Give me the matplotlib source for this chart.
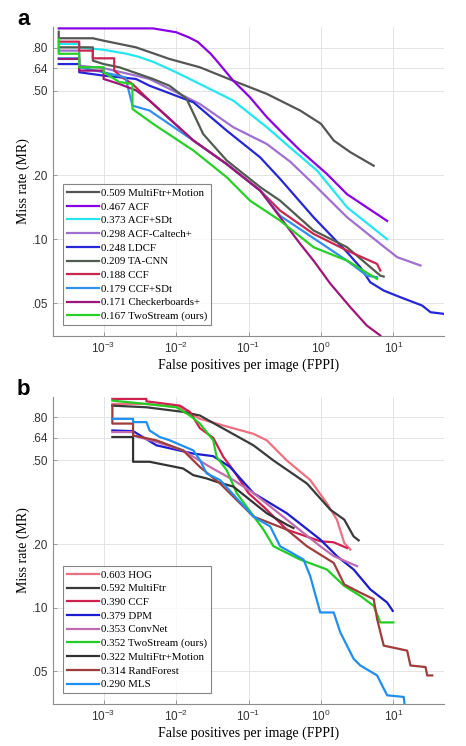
import matplotlib
matplotlib.use('Agg')
import matplotlib.pyplot as plt
from matplotlib.ticker import FixedLocator, NullLocator, FixedFormatter

plt.rcParams['font.family'] = ['Liberation Serif', 'DejaVu Serif']
plt.rcParams['mathtext.fontset'] = 'custom'
plt.rcParams['mathtext.rm'] = 'Liberation Sans'
plt.rcParams['mathtext.it'] = 'Liberation Sans:italic'

# ---------------- panel a ----------------
a_labels = ['0.509 MultiFtr+Motion', '0.467 ACF', '0.373 ACF+SDt', '0.298 ACF-Caltech+',
            '0.248 LDCF', '0.209 TA-CNN', '0.188 CCF', '0.179 CCF+SDt',
            '0.171 Checkerboards+', '0.167 TwoStream (ours)']
a_colors = ['#555555', '#8a00e6', '#22e6f0', '#a070d0', '#2626d9',
            '#4f5c4f', '#c8284f', '#2f90f0', '#a0157a', '#26d026']

a_x_mfm = [2.4e-4, 2.4e-4, 7.1e-4, 1e-3, 2.8e-3, 8.1e-3, 0.0213, 0.0617, 0.179, 0.517, 1.0, 1.5, 2.55, 5.35]
a_y_mfm = [0.95, 0.885, 0.885, 0.862, 0.802, 0.707, 0.646, 0.558, 0.484, 0.404, 0.35, 0.292, 0.257, 0.222]

a_x_acf = [2.4e-4, 4.8e-3, 0.01, 0.015, 0.02, 0.03, 0.0363, 0.0617, 0.105, 0.179, 0.304, 0.517, 1.21, 2.29, 8.2]
a_y_acf = [0.985, 0.985, 0.945, 0.894, 0.85, 0.748, 0.694, 0.558, 0.466, 0.376, 0.313, 0.262, 0.203, 0.163, 0.122]

a_x_acfsdt = [2.4e-4, 4.6e-4, 4.6e-4, 1e-3, 2e-3, 3e-3, 5e-3, 0.01, 0.0213, 0.0617, 0.179, 0.418, 0.88, 2.29, 8.2]
a_y_acfsdt = [0.832, 0.832, 0.802, 0.781, 0.75, 0.725, 0.682, 0.612, 0.539, 0.45, 0.337, 0.262, 0.211, 0.1415, 0.10]

a_x_acfct = [2.4e-4, 4.6e-4, 4.6e-4, 1e-3, 2.8e-3, 4.3e-3, 0.0213, 0.0617, 0.179, 0.376, 0.79, 2.29, 6.6, 11.3, 23.7]
a_y_acfct = [0.774, 0.774, 0.657, 0.64, 0.59, 0.569, 0.434, 0.337, 0.281, 0.232, 0.182, 0.127, 0.0951, 0.0823, 0.0752]

a_x_ldcf = [2.4e-4, 4.6e-4, 4.6e-4, 1e-3, 2.8e-3, 4.3e-3, 0.0173, 0.05, 0.145, 0.273, 0.79, 2.29, 3.5,
            4.8, 7.36, 12.5, 25, 32.6, 50]
a_y_ldcf = [0.669, 0.669, 0.612, 0.59, 0.569, 0.529, 0.442, 0.325, 0.243, 0.1925, 0.127, 0.0869, 0.0738,
            0.0627, 0.0573, 0.0533, 0.0487, 0.0453, 0.0445]

a_x_tacnn = [2.4e-4, 7.1e-4, 7.1e-4, 1e-3, 1.65e-3, 4.8e-3, 8.1e-3, 0.0139, 0.0237, 0.05, 0.145, 0.273,
             0.79, 2.29, 6.6, 7.36]
a_y_tacnn = [0.802, 0.802, 0.694, 0.669, 0.646, 0.569, 0.529, 0.46, 0.313, 0.235, 0.176, 0.152,
             0.11, 0.0917, 0.0674, 0.0667]

a_x_ccf = [2.4e-4, 4.6e-4, 4.6e-4, 7.1e-4, 7.1e-4, 1.4e-3, 1.4e-3, 1.8e-3, 2.5e-3, 4.3e-3, 0.0173,
           0.05, 0.145, 0.273, 0.79, 2.29, 5.96, 6.6]
a_y_ccf = [0.853, 0.853, 0.774, 0.774, 0.712, 0.712, 0.623, 0.579, 0.539, 0.45, 0.292,
           0.226, 0.1695, 0.1365, 0.106, 0.0885, 0.0765, 0.0712]

a_x_ccfsdt = [2.4e-4, 4.6e-4, 4.6e-4, 1e-3, 2e-3, 2.5e-3, 4.3e-3, 0.0173, 0.05, 0.145, 0.273, 2.29, 4.3, 5.96]
a_y_ccfsdt = [0.712, 0.712, 0.646, 0.612, 0.579, 0.426, 0.404, 0.292, 0.226, 0.1695, 0.129, 0.0793, 0.0674, 0.0662]

a_x_checker = [2.4e-4, 4.6e-4, 4.6e-4, 1e-3, 1e-3, 1.65e-3, 2.8e-3, 4.3e-3, 0.0173, 0.05, 0.145, 0.273,
               0.517, 0.79, 1.35, 2.55, 4.3, 6.6]
a_y_checker = [0.707, 0.707, 0.623, 0.623, 0.569, 0.539, 0.503, 0.45, 0.292, 0.226, 0.1695, 0.127,
               0.0951, 0.0793, 0.0617, 0.0478, 0.0392, 0.0352]

a_x_two = [2.4e-4, 2.4e-4, 4.6e-4, 4.6e-4, 1e-3, 1e-3, 1.65e-3, 2.5e-3, 2.5e-3, 4.8e-3, 0.0173, 0.05,
           0.105, 0.273, 0.79, 2.29, 5.96]
a_y_two = [0.878, 0.748, 0.748, 0.646, 0.646, 0.612, 0.55, 0.539, 0.411, 0.35, 0.262, 0.196,
           0.152, 0.1224, 0.0917, 0.0793, 0.065]

a_xs = [a_x_mfm, a_x_acf, a_x_acfsdt, a_x_acfct, a_x_ldcf, a_x_tacnn, a_x_ccf, a_x_ccfsdt, a_x_checker, a_x_two]
a_ys = [a_y_mfm, a_y_acf, a_y_acfsdt, a_y_acfct, a_y_ldcf, a_y_tacnn, a_y_ccf, a_y_ccfsdt, a_y_checker, a_y_two]

# ---------------- panel b ----------------
b_labels = ['0.603 HOG', '0.592 MultiFtr', '0.390 CCF', '0.379 DPM', '0.353 ConvNet',
            '0.352 TwoStream (ours)', '0.322 MultiFtr+Motion', '0.314 RandForest', '0.290 MLS']
b_colors = ['#ec7080', '#3a3a3a', '#d02050', '#1c1cd0', '#c06ab0',
            '#22cc22', '#333333', '#a03c3c', '#1e8ff0']

b_x_hog = [1.32e-3, 3.9e-3, 0.0113, 0.0213, 0.05, 0.117, 0.179, 0.338, 0.711, 1.21, 1.66, 2.1, 2.55]
b_y_hog = [0.927, 0.927, 0.894, 0.788, 0.725, 0.669, 0.623, 0.50, 0.404, 0.313, 0.262, 0.203, 0.189]

b_x_mf = [1.32e-3, 3.9e-3, 0.0125, 0.0213, 0.05, 0.117, 0.221, 0.64, 1.35, 2.1, 2.83, 3.32]
b_y_mf = [0.91, 0.894, 0.85, 0.817, 0.694, 0.59, 0.50, 0.389, 0.292, 0.262, 0.218, 0.209]

b_x_ccf = [1.32e-3, 3.9e-3, 3.9e-3, 0.0113, 0.0155, 0.0213, 0.0326, 0.0449, 0.0617, 0.1, 0.161, 0.338,
           0.978, 1.5, 2.29]
b_y_ccf = [0.979, 0.979, 0.954, 0.91, 0.85, 0.712, 0.64, 0.52, 0.45, 0.35, 0.302, 0.235,
           0.207, 0.2046, 0.1923]

b_x_dpm = [1.32e-3, 2.55e-3, 5.36e-3, 0.0173, 0.0326, 0.0555, 0.117, 0.338, 0.978, 1.66, 2.83, 4.8, 8.2, 9.8]
b_y_dpm = [0.694, 0.689, 0.59, 0.539, 0.524, 0.466, 0.35, 0.281, 0.211, 0.176, 0.152, 0.1224, 0.106, 0.0968]

b_x_conv = [1.32e-3, 2.55e-3, 2.55e-3, 5.36e-3, 0.0125, 0.0293, 0.0617, 0.117, 0.338, 0.978, 1.5, 3.15]
b_y_conv = [0.682, 0.682, 0.657, 0.612, 0.558, 0.466, 0.404, 0.35, 0.262, 0.196, 0.176, 0.1577]

b_x_two = [1.32e-3, 3.9e-3, 0.0101, 0.0155, 0.0213, 0.0326, 0.0363, 0.05, 0.0687, 0.161, 0.221, 0.517, 1.21,
           2.1, 3.5, 5.35, 6.6, 10]
b_y_two = [0.961, 0.927, 0.894, 0.817, 0.748, 0.623, 0.52, 0.45, 0.35, 0.235, 0.196, 0.1695, 0.152,
           0.127, 0.1139, 0.1022, 0.0853, 0.0853]

b_x_mfm = [1.32e-3, 2.55e-3, 2.55e-3, 4.3e-3, 7.4e-3, 0.0125, 0.0173, 0.0264, 0.0363, 0.0617, 0.105, 0.179,
           0.338, 0.418]
b_y_mfm = [0.646, 0.646, 0.493, 0.493, 0.475, 0.458, 0.426, 0.411, 0.396, 0.376, 0.325, 0.281, 0.248, 0.239]

b_x_rf = [1.32e-3, 1.32e-3, 2.55e-3, 2.55e-3, 5.36e-3, 0.0125, 0.0213, 0.0404, 0.117, 0.338, 0.64, 1.5, 2.1, 3.5,
          5.35, 5.96, 7.36, 15.5, 17.2, 27.8, 29.3, 34.4]
b_y_rf = [0.91, 0.748, 0.748, 0.657, 0.623, 0.558, 0.466, 0.389, 0.271, 0.235, 0.196, 0.1634, 0.1292, 0.118,
          0.11, 0.0885, 0.0662, 0.0627, 0.0533, 0.0524, 0.0478, 0.0478]

b_x_mls = [1.32e-3, 2.55e-3, 2.55e-3, 3.9e-3, 4.3e-3, 5.96e-3, 8.2e-3, 0.0173, 0.0213, 0.0264, 0.0404, 0.117,
           0.2, 0.273, 0.575, 0.711, 0.978, 1.5, 1.85, 2.29, 2.83, 3.5, 5.96, 8.2, 13.9, 14.2]
b_y_mls = [0.788, 0.788, 0.76, 0.76, 0.694, 0.646, 0.623, 0.558, 0.503, 0.434, 0.404, 0.271,
           0.243, 0.196, 0.1695, 0.1415, 0.0951, 0.0951, 0.0765, 0.0662, 0.0573, 0.0533, 0.0478, 0.0385,
           0.0378, 0.0354]

b_xs = [b_x_hog, b_x_mf, b_x_ccf, b_x_dpm, b_x_conv, b_x_two, b_x_mfm, b_x_rf, b_x_mls]
b_ys = [b_y_hog, b_y_mf, b_y_ccf, b_y_dpm, b_y_conv, b_y_two, b_y_mfm, b_y_rf, b_y_mls]

x_ticks = [1e-3, 1e-2, 1e-1, 1e0, 1e1]
x_ticklabels = ['$10^{-3}$', '$10^{-2}$', '$10^{-1}$', '$10^{0}$', '$10^{1}$']
y_ticks = [0.05, 0.10, 0.20, 0.50, 0.64, 0.80]
y_ticklabels = ['.05', '.10', '.20', '.50', '.64', '.80']


def style_axes(ax):
    ax.set_xscale('log')
    ax.set_yscale('log')
    ax.set_xlim(2e-4, 50)
    ax.set_ylim(0.035, 1.0)
    ax.xaxis.set_major_locator(FixedLocator(x_ticks))
    ax.xaxis.set_major_formatter(FixedFormatter(x_ticklabels))
    ax.xaxis.set_minor_locator(NullLocator())
    ax.yaxis.set_major_locator(FixedLocator(y_ticks))
    ax.yaxis.set_major_formatter(FixedFormatter(y_ticklabels))
    ax.yaxis.set_minor_locator(NullLocator())
    ax.grid(True, color='#e4e4e4', linewidth=0.7)
    ax.set_axisbelow(True)
    for s in ['top', 'right']:
        ax.spines[s].set_visible(False)
    for s in ['left', 'bottom']:
        ax.spines[s].set_color('#8c8c8c')
        ax.spines[s].set_linewidth(0.8)
    ax.tick_params(direction='in', length=3, width=0.6, color='#8c8c8c', labelsize=8.5,
                   labelcolor='#333333')
    for lab in ax.get_yticklabels():
        lab.set_family('Liberation Sans')
    ax.set_xlabel('False positives per image (FPPI)', fontsize=10, labelpad=2)
    ax.set_ylabel('Miss rate (MR)', fontsize=10, labelpad=1)


fig = plt.figure(figsize=(4.66, 7.46), dpi=100)
ax_a = fig.add_axes([53 / 466, 1 - 336 / 746, 391 / 466, 309 / 746])
ax_b = fig.add_axes([53 / 466, 1 - 704 / 746, 391 / 466, 307 / 746])

for ax, xs, ys, labels, colors in [(ax_a, a_xs, a_ys, a_labels, a_colors),
                                   (ax_b, b_xs, b_ys, b_labels, b_colors)]:
    style_axes(ax)
    lines = []
    for x, y, lab, col in zip(xs, ys, labels, colors):
        ln, = ax.plot(x, y, color=col, linewidth=1.6, label=lab)
        lines.append(ln)
    leg = ax.legend(handles=lines, loc='lower left', bbox_to_anchor=(0.026, 0.035),
                    fontsize=7.8, frameon=True, fancybox=False, borderpad=0.35,
                    labelspacing=0.38, handlelength=3.0, handletextpad=0.15,
                    borderaxespad=0.0)
    leg.get_frame().set_edgecolor('#666666')
    leg.get_frame().set_linewidth(0.8)

fig.text(17 / 466, 1 - 25 / 746, 'a', fontsize=16, fontweight='bold', family='Liberation Sans')
fig.text(17 / 466, 1 - 395 / 746, 'b', fontsize=16, fontweight='bold', family='Liberation Sans')

fig.savefig('out.png', dpi=100)
